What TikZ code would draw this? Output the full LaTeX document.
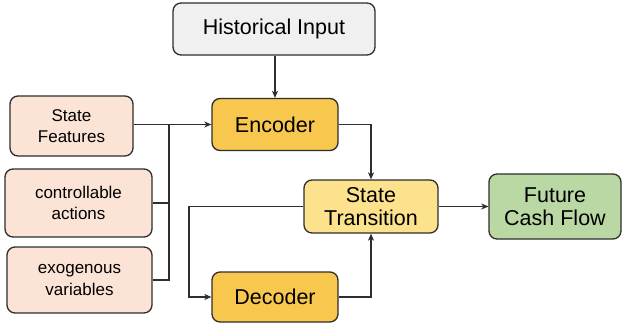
\documentclass[tikz,border=0pt]{standalone}
\usepackage{fontspec}
\setmainfont{Liberation Sans}
\usetikzlibrary{arrows.meta}
\definecolor{edgegray}{HTML}{2E2E2E}
\definecolor{histfill}{HTML}{F0F0F0}
\definecolor{codefill}{HTML}{F8C74E}
\definecolor{transfill}{HTML}{FCE28C}
\definecolor{cashfill}{HTML}{B9D8A4}
\definecolor{featfill}{HTML}{FBE4D5}
\tikzset{
  blk/.style={draw=edgegray, line width=1.3pt, rounded corners=8pt, align=center,
    inner sep=0pt, text=black},
  bigtxt/.style={font=\fontsize{21.5}{23}\selectfont},
  smalltxt/.style={font=\fontsize{17}{21.5}\selectfont},
  wire/.style={draw=edgegray, line width=1.2pt},
  arr/.style={wire, -{Stealth[length=7pt,width=6pt,inset=2pt]}}
}
\begin{document}
\begin{tikzpicture}[x=1pt,y=-1pt]
\useasboundingbox (0,0) rectangle (622,324);
\fill[white] (0,0) rectangle (622,324);

% main processing blocks
\node[blk, bigtxt, fill=histfill, minimum width=202pt, minimum height=52pt] (hist) at (274,29) {Historical Input};
\node[blk, bigtxt, fill=codefill, minimum width=126pt, minimum height=52pt] (enc) at (275,124.5) {Encoder};
\node[blk, bigtxt, fill=transfill, minimum width=134pt, minimum height=53pt] (st) at (371,206.5) {State\\Transition};
\node[blk, bigtxt, fill=codefill, minimum width=126pt, minimum height=50pt] (dec) at (275,297) {Decoder};
\node[blk, bigtxt, fill=cashfill, minimum width=132pt, minimum height=65pt] (cash) at (555,206.5) {Future\\Cash Flow};

% input feature blocks
\node[blk, smalltxt, fill=featfill, minimum width=123pt, minimum height=60pt] (feat) at (71.5,126) {State\\Features};
\node[blk, smalltxt, fill=featfill, minimum width=147pt, minimum height=68pt] (ctrl) at (78.5,203) {controllable\\actions};
\node[blk, smalltxt, fill=featfill, minimum width=145pt, minimum height=66pt] (exo) at (79.5,280) {exogenous\\variables};

% bus and loop-back coordinates
\coordinate (bus) at (169,0);
\coordinate (loop) at (189,0);

% connectors
\draw[arr] (hist.south -| enc.north) -- (enc.north);
\draw[arr] (feat.east |- enc.west) -- (enc.west);
\draw[wire] (ctrl.east) -- (bus |- ctrl.east);
\draw[wire] (exo.east) -- (bus |- exo.east) -- (bus |- enc.west);
\draw[arr] (enc.east) -- (st.north |- enc.east) -- (st.north);
\draw[arr] (st.west) -- (loop |- st.west) -- (loop |- dec.west) -- (dec.west);
\draw[arr] (dec.east) -- (st.south |- dec.east) -- (st.south);
\draw[arr] (st.east) -- (cash.west);
\end{tikzpicture}
\end{document}
